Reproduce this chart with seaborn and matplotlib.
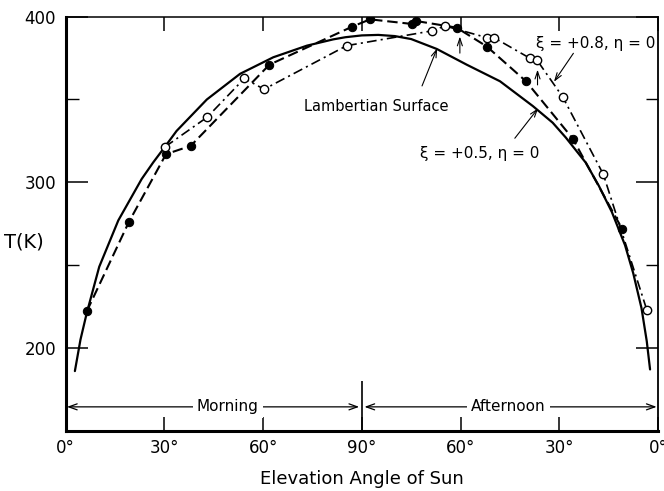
import matplotlib
matplotlib.use("Agg")
import matplotlib.pyplot as plt
import seaborn as sns

# ---- data (x: 0..90 = morning elevation, 90..180 = afternoon, i.e. 180 - elevation) ----
tick_positions = [0, 30, 60, 90, 120, 150, 180]
tick_labels = ["0°", "30°", "60°", "90°", "60°", "30°", "0°"]

lambert_x = [2.8, 4.5, 6.4, 10.2, 16.0, 23.1, 26.6, 30.0, 33.7, 42.9, 53.0, 63.1,
             73.3, 81.3, 85.0, 90.0, 95.0, 100.0, 105.0, 112.8, 121.9, 132.0,
             138.0, 142.0, 148.0, 152.0, 158.0, 162.0, 166.0, 170.0, 172.5,
             175.0, 176.6, 177.6]
lambert_T = [186, 205, 221, 249, 277, 302, 312, 321, 331, 350, 365.5, 375.5,
             382.5, 386.3, 387.6, 388.7, 389, 388.3, 386.5, 380.5, 371, 361,
             352, 346, 336, 327, 312, 298, 282, 262, 245,
             224, 204, 187]

xi05_x = [6.4, 19.2, 30.5, 38.0, 61.9, 87.1, 92.5, 105.3, 106.5, 118.8, 128.0,
          139.9, 154.1, 169.2]
xi05_T = [222, 276, 317, 322, 371, 394, 398.4, 395.6, 397.4, 393.4, 382,
          361, 326.4, 271.5]

xi08_x = [30.2, 43.0, 54.3, 60.3, 85.4, 111.2, 115.3, 128.1, 130.2, 141.1, 143.2,
          151.1, 163.4, 176.6]
xi08_T = [321.4, 339.3, 362.7, 356.2, 382.5, 391.4, 394.4, 387.3, 387.3, 374.9, 373.9,
          351.4, 304.8, 223]

# ---- style ----
sns.set_theme(style="white")
plt.rcParams["font.family"] = ["DejaVu Sans"]
plt.rcParams["lines.scale_dashes"] = False
plt.rcParams["text.color"] = "black"
plt.rcParams["axes.labelcolor"] = "black"
plt.rcParams["xtick.color"] = "black"
plt.rcParams["ytick.color"] = "black"

fig = plt.figure(figsize=(6.64, 4.91), dpi=100)
ax = fig.add_axes([0.0989, 0.1228, 0.8920, 0.8432])

sns.lineplot(x=lambert_x, y=lambert_T, ax=ax, color="black", lw=1.6,
             sort=False, estimator=None)
sns.lineplot(x=xi05_x, y=xi05_T, ax=ax, color="black", lw=1.5,
             linestyle=(0, (7.5, 3.5)), sort=False, estimator=None,
             marker="o", markersize=6, markerfacecolor="black",
             markeredgecolor="black")
sns.lineplot(x=xi08_x, y=xi08_T, ax=ax, color="black", lw=1.2,
             linestyle=(0, (7, 3, 1.5, 3)), sort=False, estimator=None,
             marker="o", markersize=6, markerfacecolor="white",
             markeredgecolor="black", markeredgewidth=1.0)

ax.set_xlim(0, 180)
ax.set_ylim(150, 400)

ax.set_xticks(tick_positions)
ax.set_xticklabels(tick_labels, fontsize=12)
ax.set_yticks([200, 300, 400])
ax.set_yticklabels(["200", "300", "400"], fontsize=12)
ax.set_yticks([250, 350], minor=True)

ax.tick_params(axis="x", which="major", direction="in", length=10, width=1.1,
               top=True, bottom=True, pad=6)
ax.tick_params(axis="y", which="major", direction="in", length=16, width=1.1,
               left=True, right=True, pad=7)
ax.tick_params(axis="y", which="minor", direction="in", length=9, width=1.0,
               left=True, right=True)

for side, w in [("left", 2.2), ("bottom", 2.2), ("top", 1.1), ("right", 1.3)]:
    ax.spines[side].set_linewidth(w)
    ax.spines[side].set_color("black")

ax.set_xlabel("Elevation Angle of Sun", fontsize=13, labelpad=9)
ax.set_ylabel("T(K)", fontsize=14, rotation=0, ha="center", va="center")
ax.yaxis.set_label_coords(-0.071, 0.4565)

# 90° divider
ax.vlines(90, 150, 180, color="black", lw=1.2)

# Morning / Afternoon arrows
arrow_kw = dict(arrowstyle="<->,head_length=0.5,head_width=0.18", lw=0.9,
                color="black", shrinkA=0, shrinkB=0)
ax.annotate("", xy=(0.4, 164.4), xytext=(89.2, 164.4), arrowprops=arrow_kw)
ax.annotate("", xy=(90.8, 164.4), xytext=(179.6, 164.4), arrowprops=arrow_kw)
box = dict(facecolor="white", edgecolor="none", pad=3)
ax.text(49.3, 164.4, "Morning", fontsize=11, ha="center", va="center", bbox=box)
ax.text(134.5, 164.4, "Afternoon", fontsize=11, ha="center", va="center", bbox=box)

# curve labels and pointer arrows
ax.text(94.5, 345.7, "Lambertian Surface", fontsize=10.5, ha="center", va="center")
ax.text(161.2, 383.9, "ξ = +0.8, η = 0", fontsize=11, ha="center", va="center")
ax.text(125.9, 317.4, "ξ = +0.5, η = 0", fontsize=11, ha="center", va="center")

ptr = dict(arrowstyle="->,head_length=0.45,head_width=0.15", lw=0.8,
           color="black", shrinkA=0, shrinkB=0)
ax.annotate("", xy=(112.9, 380.9), xytext=(108.3, 358.2), arrowprops=ptr)
ax.annotate("", xy=(148.4, 360.7), xytext=(154.3, 377.9), arrowprops=ptr)
ax.annotate("", xy=(143.6, 344.7), xytext=(136.5, 326.6), arrowprops=ptr)
ax.annotate("", xy=(119.8, 388.0), xytext=(119.8, 378.0), arrowprops=ptr)
ax.annotate("", xy=(143.4, 368.0), xytext=(143.4, 358.8), arrowprops=ptr)

fig.savefig("out.png", dpi=100, facecolor="white")
